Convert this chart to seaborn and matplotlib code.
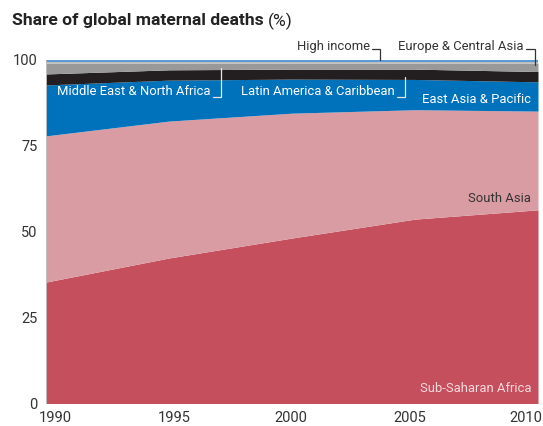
import matplotlib
matplotlib.use("Agg")
import matplotlib.pyplot as plt
import seaborn as sns

# Share of global maternal deaths by region (%)
years = [1990, 1995, 2000, 2005, 2010]
regions = [
    "Sub-Saharan Africa",
    "South Asia",
    "East Asia & Pacific",
    "Latin America & Caribbean",
    "Middle East & North Africa",
    "Europe & Central Asia",
    "High income",
]
sub_saharan_africa = [35.3, 42.3, 48.1, 53.6, 56.3]
south_asia = [42.5, 39.8, 36.3, 31.8, 28.7]
east_asia_pacific = [14.8, 11.9, 9.9, 8.8, 8.5]
latin_america_caribbean = [3.2, 3.0, 2.9, 3.0, 3.0]
middle_east_north_africa = [3.2, 2.0, 1.8, 1.8, 2.5]
europe_central_asia = [0.4, 0.4, 0.4, 0.4, 0.4]
high_income = [0.6, 0.6, 0.6, 0.6, 0.6]
y_ticks = [0, 25, 50, 75, 100]

colors = ["#c54f5d", "#d99ca3", "#0072bb", "#231f20", "#999999", "#bcbcbc", "#5a9bd6"]

sns.set_theme(style="white")
plt.rcParams["font.family"] = ["Roboto", "DejaVu Sans"]

fig = plt.figure(figsize=(5.43, 4.26), dpi=100)
ax = fig.add_axes([46 / 543, 1 - 403.5 / 426, 492 / 543, 344 / 426])

series = [sub_saharan_africa, south_asia, east_asia_pacific, latin_america_caribbean,
          middle_east_north_africa, europe_central_asia, high_income]
ax.stackplot(years, *series, colors=colors, labels=regions, linewidth=0)

ax.set_xlim(1990, 2010)
ax.set_ylim(0, 100)
for s in ax.spines.values():
    s.set_visible(False)
ax.axvline(1990, color="#bbbbbb", lw=0.6)

ax.set_yticks(y_ticks)
ax.set_yticklabels([str(v) for v in y_ticks])
ax.tick_params(axis="y", length=0, pad=6, labelsize=10.5, labelcolor="#333333")
ax.set_xticks([])

# year labels along the bottom
nudge = [7, 4, -1, -4, -9]
for yr, dx in zip(years, nudge):
    ax.annotate(str(yr), xy=(yr, 0), xycoords=("data", "axes fraction"),
                xytext=(dx, -5.5), textcoords="offset points",
                ha="center", va="top", fontsize=10.5, color="#333333",
                annotation_clip=False)

text_kw = dict(fontsize=9.4, va="center")
# labels inside the bands
ax.text(1996.70, 90.6, "Middle East & North Africa", ha="right", color="white", **text_kw)
ax.text(2004.19, 90.6, "Latin America & Caribbean", ha="right", color="white", **text_kw)
ax.text(2009.72, 88.4, "East Asia & Pacific", ha="right", color="white", **text_kw)
ax.text(2009.72, 59.6, "South Asia", ha="right", color="#333333", **text_kw)
ax.text(2009.72, 4.5, "Sub-Saharan Africa", ha="right", color="#f3dade", **text_kw)
# labels above the plot
ax.text(2003.17, 103.7, "High income", ha="right", color="#333333", clip_on=False, **text_kw)
ax.text(2009.43, 103.7, "Europe & Central Asia", ha="right", color="#333333", clip_on=False, **text_kw)

# leader hooks
hook_kw = dict(lw=0.9, clip_on=False, solid_joinstyle="miter")
ax.plot([1996.80, 1997.11, 1997.11], [89.2, 89.2, 97.4], color="#e6e6e6", **hook_kw)
ax.plot([2004.27, 2004.59, 2004.59], [89.2, 89.2, 95.0], color="#e6e6e6", **hook_kw)
ax.plot([2003.25, 2003.58, 2003.58], [103.1, 103.1, 99.8], color="#333333", **hook_kw)
ax.plot([2009.50, 2009.88, 2009.88], [103.1, 103.1, 98.4], color="#333333", **hook_kw)

# title: bold phrase followed by the unit in regular weight
t1 = fig.text(12 / 543, 1 - 21 / 426, "Share of global maternal deaths", fontsize=12.6,
              fontweight="bold", color="#222222", va="center", ha="left")
fig.canvas.draw()
bb = t1.get_window_extent(fig.canvas.get_renderer())
fig.text(bb.x1 / fig.bbox.width + 4 / 543, 1 - 21 / 426, "(%)", fontsize=12.6,
         color="#222222", va="center", ha="left")

fig.savefig("out.png", dpi=100)
